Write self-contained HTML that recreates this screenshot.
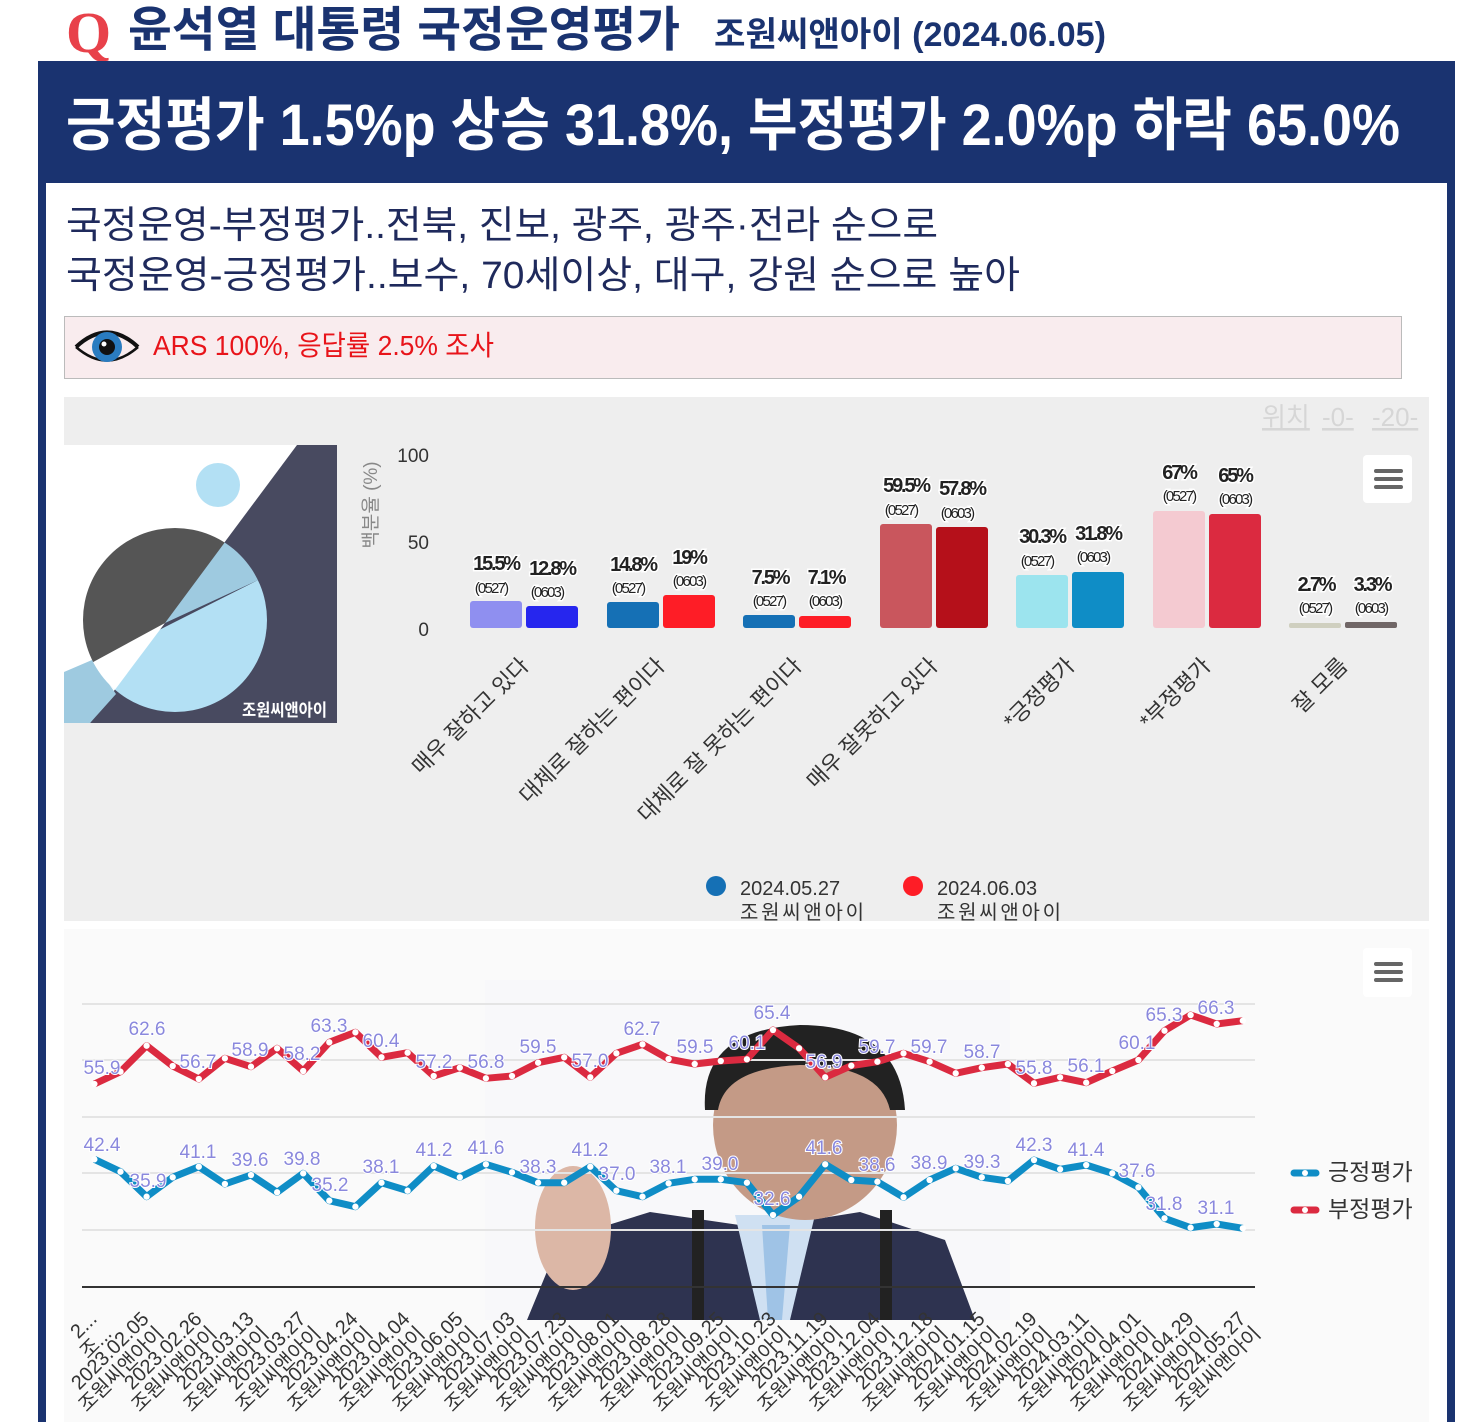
<!DOCTYPE html>
<html><head><meta charset="utf-8"><style>
html,body{margin:0;padding:0;background:#fff;width:1483px;height:1422px;overflow:hidden}
svg{display:block}
text{font-family:"Liberation Sans","Noto Sans CJK KR",sans-serif}
.bv{font-size:20px;font-weight:bold;fill:#222;letter-spacing:-2.2px;stroke:#fff;stroke-width:3px;paint-order:stroke;text-anchor:middle}
.bd{font-size:15px;fill:#222;letter-spacing:-1.8px;stroke:#fff;stroke-width:3px;paint-order:stroke;text-anchor:middle}
.cat{font-size:22px;fill:#333;text-anchor:end}
.ll{font-size:19px;fill:#8a88dd;stroke:#fff;stroke-width:2px;paint-order:stroke;text-anchor:middle}
.xl{font-size:20px;fill:#333;text-anchor:end}
</style></head><body>
<svg width="1483" height="1422" viewBox="0 0 1483 1422" xmlns="http://www.w3.org/2000/svg">
<defs>
<marker id="mk" viewBox="0 0 10 10" refX="5" refY="5" markerWidth="7" markerHeight="7" markerUnits="userSpaceOnUse"><circle cx="5" cy="5" r="4.5" fill="#fff"/></marker>
<clipPath id="cc"><circle cx="175" cy="620" r="92"/></clipPath>
</defs>
<text x="66" y="52" font-size="58" font-weight="bold" fill="#e8414a" style="font-family:'Liberation Serif',serif">Q</text>
<text x="128" y="46" font-size="48" font-weight="bold" fill="#1a3370" textLength="552" lengthAdjust="spacingAndGlyphs">윤석열 대통령 국정운영평가</text>
<text x="714" y="46" font-size="34" font-weight="bold" fill="#1a3370" textLength="392" lengthAdjust="spacingAndGlyphs">조원씨앤아이 (2024.06.05)</text>
<rect x="38" y="61" width="1417" height="1361" fill="#1a3370"/>
<rect x="46" y="183" width="1401" height="1239" fill="#fff"/>
<text x="66" y="145" font-size="58" font-weight="bold" fill="#fff" textLength="1334" lengthAdjust="spacingAndGlyphs">긍정평가 1.5%p 상승 31.8%, 부정평가 2.0%p 하락 65.0%</text>
<text x="66" y="238" font-size="38" fill="#1f2a5c" textLength="872" lengthAdjust="spacingAndGlyphs">국정운영-부정평가..전북, 진보, 광주, 광주·전라 순으로</text>
<text x="66" y="288" font-size="38" fill="#1f2a5c" textLength="954" lengthAdjust="spacingAndGlyphs">국정운영-긍정평가..보수, 70세이상, 대구, 강원 순으로 높아</text>
<rect x="64.5" y="316.5" width="1337" height="62" fill="#f9ecee" stroke="#bbb"/>
<path d="M76 347 Q107 318 138 347" fill="none" stroke="#111" stroke-width="4"/>
<path d="M76 347 Q107 374 138 347" fill="none" stroke="#111" stroke-width="2.5"/>
<circle cx="107" cy="347" r="15" fill="#2a7cc0"/>
<circle cx="107" cy="347" r="8" fill="#111"/>
<circle cx="104" cy="344" r="2.5" fill="#fff"/>
<text x="153" y="355" font-size="28" fill="#e8141a" textLength="341" lengthAdjust="spacingAndGlyphs">ARS 100%, 응답률 2.5% 조사</text>
<rect x="64" y="397" width="1365" height="524" fill="#eeeeee"/>
<text x="1262" y="426" font-size="26" fill="#d6d6d6" text-decoration="underline">위치</text>
<text x="1322" y="426" font-size="26" fill="#d6d6d6" text-decoration="underline">-0-</text>
<text x="1372" y="426" font-size="26" fill="#d6d6d6" text-decoration="underline">-20-</text>
<rect x="1363" y="455" width="49" height="48" rx="4" fill="#fff"/>
<rect x="1374" y="469" width="29" height="4" rx="2" fill="#666"/>
<rect x="1374" y="477" width="29" height="4" rx="2" fill="#666"/>
<rect x="1374" y="485" width="29" height="4" rx="2" fill="#666"/>
<rect x="64" y="445" width="273" height="278" fill="#fff"/>
<polygon points="297,445 337,445 337,723 90,723" fill="#484a60"/>
<polygon points="64,672 92,660 116,694 90,723 64,723" fill="#9ecae0"/>
<circle cx="218" cy="485" r="22" fill="#b3e0f4"/>
<g clip-path="url(#cc)">
<polygon points="60,680 270,574 270,720 60,720" fill="#b3e0f4"/>
<polygon points="60,680 165,623 90,723 60,723" fill="#fff"/>
<polygon points="60,520 297,445 165,623 60,680" fill="#555"/>
<polygon points="297,445 280,445 280,570 165,623" fill="#9ecae0"/>
</g>
<text x="242" y="716" font-size="17" font-weight="bold" fill="#fff" textLength="85" lengthAdjust="spacingAndGlyphs">조원씨앤아이</text>
<text x="429" y="462" font-size="19" fill="#333" text-anchor="end">100</text>
<text x="429" y="549" font-size="19" fill="#333" text-anchor="end">50</text>
<text x="429" y="636" font-size="19" fill="#333" text-anchor="end">0</text>
<text transform="translate(377,505) rotate(-90)" font-size="19" fill="#888" text-anchor="middle">백분율 (%)</text>
<g>
<rect x="470" y="601" width="52" height="27" rx="3" fill="#8f8ff0"/>
<rect x="526" y="606" width="52" height="22" rx="3" fill="#2626ee"/>
<rect x="607" y="602" width="52" height="26" rx="3" fill="#1570b5"/>
<rect x="663" y="595" width="52" height="33" rx="3" fill="#fe1d26"/>
<rect x="743" y="615" width="52" height="13" rx="3" fill="#1570b5"/>
<rect x="799" y="616" width="52" height="12" rx="3" fill="#fe1d26"/>
<rect x="880" y="524" width="52" height="104" rx="3" fill="#c9565d"/>
<rect x="936" y="527" width="52" height="101" rx="3" fill="#b5101a"/>
<rect x="1016" y="575" width="52" height="53" rx="3" fill="#9ce4ee"/>
<rect x="1072" y="572" width="52" height="56" rx="3" fill="#0f8dc6"/>
<rect x="1153" y="511" width="52" height="117" rx="3" fill="#f4cad1"/>
<rect x="1209" y="514" width="52" height="114" rx="3" fill="#db2a40"/>
<rect x="1289" y="623" width="52" height="5" rx="2" fill="#cfcfbf"/>
<rect x="1345" y="622" width="52" height="6" rx="2" fill="#706666"/>
</g>
<g>
<text class="bv" x="496" y="570">15.5%</text><text class="bd" x="491" y="593">(0527)</text>
<text class="bv" x="552" y="575">12.8%</text><text class="bd" x="547" y="597">(0603)</text>
<text class="bv" x="633" y="571">14.8%</text><text class="bd" x="628" y="593">(0527)</text>
<text class="bv" x="689" y="564">19%</text><text class="bd" x="689" y="586">(0603)</text>
<text class="bv" x="770" y="584">7.5%</text><text class="bd" x="769" y="606">(0527)</text>
<text class="bv" x="826" y="584">7.1%</text><text class="bd" x="825" y="606">(0603)</text>
<text class="bv" x="906" y="492">59.5%</text><text class="bd" x="901" y="515">(0527)</text>
<text class="bv" x="962" y="495">57.8%</text><text class="bd" x="957" y="518">(0603)</text>
<text class="bv" x="1042" y="543">30.3%</text><text class="bd" x="1037" y="566">(0527)</text>
<text class="bv" x="1098" y="540">31.8%</text><text class="bd" x="1093" y="562">(0603)</text>
<text class="bv" x="1179" y="479">67%</text><text class="bd" x="1179" y="501">(0527)</text>
<text class="bv" x="1235" y="482">65%</text><text class="bd" x="1235" y="504">(0603)</text>
<text class="bv" x="1316" y="591">2.7%</text><text class="bd" x="1315" y="613">(0527)</text>
<text class="bv" x="1372" y="591">3.3%</text><text class="bd" x="1371" y="613">(0603)</text>
</g>
<g>
<text class="cat" transform="translate(530,667) rotate(-45)">매우 잘하고 있다</text>
<text class="cat" transform="translate(666,667) rotate(-45)">대체로 잘하는 편이다</text>
<text class="cat" transform="translate(803,667) rotate(-45)">대체로 잘 못하는 편이다</text>
<text class="cat" transform="translate(939,667) rotate(-45)">매우 잘못하고 있다</text>
<text class="cat" transform="translate(1076,667) rotate(-45)">*긍정평가</text>
<text class="cat" transform="translate(1212,667) rotate(-45)">*부정평가</text>
<text class="cat" transform="translate(1349,667) rotate(-45)">잘 모름</text>
</g>
<circle cx="716" cy="886" r="10" fill="#1570b5"/>
<text x="740" y="895" font-size="20" fill="#333">2024.05.27</text>
<text x="740" y="919" font-size="20" fill="#333" textLength="124">조원씨앤아이</text>
<circle cx="913" cy="886" r="10" fill="#fe1d26"/>
<text x="937" y="895" font-size="20" fill="#333">2024.06.03</text>
<text x="937" y="919" font-size="20" fill="#333" textLength="124">조원씨앤아이</text>
<rect x="64" y="929" width="1365" height="493" fill="#fafafa"/>
<!-- photo -->
<rect x="485" y="980" width="525" height="340" fill="#f8f8fa"/>
<polygon points="527,1320 560,1240 650,1212 760,1228 860,1212 945,1240 975,1320" fill="#2e3350"/>
<polygon points="735,1215 815,1215 790,1320 760,1320" fill="#cfe0f2"/>
<polygon points="762,1225 790,1225 782,1320 768,1320" fill="#9fc3e6"/>
<ellipse cx="805" cy="1125" rx="92" ry="95" fill="#c49a86"/>
<path d="M705 1110 Q700 1030 800 1025 Q900 1025 905 1110 L890 1110 Q880 1065 800 1065 Q725 1068 718 1110 Z" fill="#222"/>
<ellipse cx="573" cy="1228" rx="38" ry="62" fill="#dcb7a6"/>
<rect x="692" y="1210" width="12" height="110" fill="#222"/>
<rect x="880" y="1210" width="12" height="110" fill="#222"/>
<g stroke="#e4e4e4" stroke-width="2">
<line x1="82" y1="1004" x2="1255" y2="1004"/>
<line x1="82" y1="1060" x2="1255" y2="1060"/>
<line x1="82" y1="1117" x2="1255" y2="1117"/>
<line x1="82" y1="1173" x2="1255" y2="1173"/>
<line x1="82" y1="1230" x2="1255" y2="1230"/>
</g>
<line x1="82" y1="1287" x2="1255" y2="1287" stroke="#333" stroke-width="2"/>
<rect x="1363" y="948" width="49" height="49" rx="4" fill="#fff"/>
<rect x="1374" y="962" width="29" height="4" rx="2" fill="#666"/>
<rect x="1374" y="970" width="29" height="4" rx="2" fill="#666"/>
<rect x="1374" y="978" width="29" height="4" rx="2" fill="#666"/>
<polyline fill="none" stroke="#db2a40" stroke-width="7" stroke-linejoin="round" marker-start="url(#mk)" marker-mid="url(#mk)" marker-end="url(#mk)" points="94.4,1084 120.5,1071.7 146.6,1045.7 172.7,1066 198.8,1079 224.9,1058.3 251,1066.7 277.1,1048.3 303.2,1071 329.3,1042.3 355.4,1032.3 381.5,1057.3 407.6,1052.7 433.7,1076 459.8,1067.7 485.9,1078.3 512,1076 538.1,1062.7 564.2,1057.3 590.3,1077.3 616.4,1053.3 642.5,1044.3 668.6,1059 694.7,1064 720.8,1061 746.9,1059.3 773,1030 799.1,1048.3 825.2,1077.3 851.3,1065.7 877.4,1061.7 903.5,1053.3 929.6,1061.7 955.7,1073.3 981.8,1067.7 1007.9,1064 1034,1083.3 1060.1,1077.3 1086.2,1082.7 1112.3,1071 1138.4,1060 1164.5,1030.7 1190.6,1015 1216.7,1024 1242.8,1020.7"/>
<polyline fill="none" stroke="#0f8dc6" stroke-width="7" stroke-linejoin="round" marker-start="url(#mk)" marker-mid="url(#mk)" marker-end="url(#mk)" points="94.4,1159.3 120.5,1171.7 146.6,1196.7 172.7,1177.3 198.8,1166.7 224.9,1184 251,1175 277.1,1192.3 303.2,1173.3 329.3,1200.7 355.4,1206.7 381.5,1182.7 407.6,1190.7 433.7,1166 459.8,1177.3 485.9,1164.3 512,1172.3 538.1,1182.7 564.2,1182.7 590.3,1166.7 616.4,1190.7 642.5,1196.7 668.6,1183.3 694.7,1179.3 720.8,1179.3 746.9,1182.7 773,1215 799.1,1196.7 825.2,1164.3 851.3,1180 877.4,1181.7 903.5,1197.3 929.6,1180 955.7,1168.3 981.8,1177.3 1007.9,1181 1034,1160 1060.1,1169.3 1086.2,1165 1112.3,1173.3 1138.4,1187.3 1164.5,1218.3 1190.6,1227.7 1216.7,1224 1242.8,1228.3"/>
<g>
<text class="ll" x="102" y="1074">55.9</text><text class="ll" x="147" y="1035">62.6</text><text class="ll" x="198" y="1068">56.7</text><text class="ll" x="250" y="1056">58.9</text><text class="ll" x="302" y="1060">58.2</text><text class="ll" x="329" y="1032">63.3</text><text class="ll" x="381" y="1047">60.4</text><text class="ll" x="434" y="1068">57.2</text><text class="ll" x="486" y="1068">56.8</text><text class="ll" x="538" y="1053">59.5</text><text class="ll" x="590" y="1067">57.0</text><text class="ll" x="642" y="1035">62.7</text><text class="ll" x="695" y="1053">59.5</text><text class="ll" x="747" y="1049">60.1</text><text class="ll" x="772" y="1019">65.4</text><text class="ll" x="824" y="1068">56.9</text><text class="ll" x="877" y="1053">59.7</text><text class="ll" x="929" y="1053">59.7</text><text class="ll" x="982" y="1058">58.7</text><text class="ll" x="1034" y="1074">55.8</text><text class="ll" x="1086" y="1072">56.1</text><text class="ll" x="1137" y="1049">60.1</text><text class="ll" x="1164" y="1021">65.3</text><text class="ll" x="1216" y="1014">66.3</text>
<text class="ll" x="102" y="1151">42.4</text><text class="ll" x="148" y="1187">35.9</text><text class="ll" x="198" y="1158">41.1</text><text class="ll" x="250" y="1166">39.6</text><text class="ll" x="302" y="1165">39.8</text><text class="ll" x="330" y="1191">35.2</text><text class="ll" x="381" y="1173">38.1</text><text class="ll" x="434" y="1156">41.2</text><text class="ll" x="486" y="1154">41.6</text><text class="ll" x="538" y="1173">38.3</text><text class="ll" x="590" y="1156">41.2</text><text class="ll" x="617" y="1180">37.0</text><text class="ll" x="668" y="1173">38.1</text><text class="ll" x="720" y="1170">39.0</text><text class="ll" x="772" y="1205">32.6</text><text class="ll" x="824" y="1154">41.6</text><text class="ll" x="877" y="1171">38.6</text><text class="ll" x="929" y="1169">38.9</text><text class="ll" x="982" y="1168">39.3</text><text class="ll" x="1034" y="1151">42.3</text><text class="ll" x="1086" y="1156">41.4</text><text class="ll" x="1137" y="1177">37.6</text><text class="ll" x="1164" y="1210">31.8</text><text class="ll" x="1216" y="1214">31.1</text>
</g>
<g>
<g transform="translate(98,1320) rotate(-45)"><text class="xl">2...</text><text class="xl" y="21">조...</text></g>
<g transform="translate(150,1320) rotate(-45)"><text class="xl">2023.02.05</text><text class="xl" y="21">조원씨앤아이</text></g>
<g transform="translate(203,1320) rotate(-45)"><text class="xl">2023.02.26</text><text class="xl" y="21">조원씨앤아이</text></g>
<g transform="translate(255,1320) rotate(-45)"><text class="xl">2023.03.13</text><text class="xl" y="21">조원씨앤아이</text></g>
<g transform="translate(307,1320) rotate(-45)"><text class="xl">2023.03.27</text><text class="xl" y="21">조원씨앤아이</text></g>
<g transform="translate(359,1320) rotate(-45)"><text class="xl">2023.04.24</text><text class="xl" y="21">조원씨앤아이</text></g>
<g transform="translate(411,1320) rotate(-45)"><text class="xl">2023.04.04</text><text class="xl" y="21">조원씨앤아이</text></g>
<g transform="translate(464,1320) rotate(-45)"><text class="xl">2023.06.05</text><text class="xl" y="21">조원씨앤아이</text></g>
<g transform="translate(516,1320) rotate(-45)"><text class="xl">2023.07.03</text><text class="xl" y="21">조원씨앤아이</text></g>
<g transform="translate(568,1320) rotate(-45)"><text class="xl">2023.07.23</text><text class="xl" y="21">조원씨앤아이</text></g>
<g transform="translate(620,1320) rotate(-45)"><text class="xl">2023.08.01</text><text class="xl" y="21">조원씨앤아이</text></g>
<g transform="translate(672,1320) rotate(-45)"><text class="xl">2023.08.28</text><text class="xl" y="21">조원씨앤아이</text></g>
<g transform="translate(725,1320) rotate(-45)"><text class="xl">2023.09.25</text><text class="xl" y="21">조원씨앤아이</text></g>
<g transform="translate(777,1320) rotate(-45)"><text class="xl">2023.10.23</text><text class="xl" y="21">조원씨앤아이</text></g>
<g transform="translate(829,1320) rotate(-45)"><text class="xl">2023.11.19</text><text class="xl" y="21">조원씨앤아이</text></g>
<g transform="translate(881,1320) rotate(-45)"><text class="xl">2023.12.04</text><text class="xl" y="21">조원씨앤아이</text></g>
<g transform="translate(934,1320) rotate(-45)"><text class="xl">2023.12.18</text><text class="xl" y="21">조원씨앤아이</text></g>
<g transform="translate(986,1320) rotate(-45)"><text class="xl">2024.01.15</text><text class="xl" y="21">조원씨앤아이</text></g>
<g transform="translate(1038,1320) rotate(-45)"><text class="xl">2024.02.19</text><text class="xl" y="21">조원씨앤아이</text></g>
<g transform="translate(1090,1320) rotate(-45)"><text class="xl">2024.03.11</text><text class="xl" y="21">조원씨앤아이</text></g>
<g transform="translate(1142,1320) rotate(-45)"><text class="xl">2024.04.01</text><text class="xl" y="21">조원씨앤아이</text></g>
<g transform="translate(1195,1320) rotate(-45)"><text class="xl">2024.04.29</text><text class="xl" y="21">조원씨앤아이</text></g>
<g transform="translate(1247,1320) rotate(-45)"><text class="xl">2024.05.27</text><text class="xl" y="21">조원씨앤아이</text></g>
</g>
<line x1="1294" y1="1173" x2="1316" y2="1173" stroke="#0f8dc6" stroke-width="7" stroke-linecap="round"/>
<circle cx="1305" cy="1173" r="3" fill="#fff"/>
<text x="1328" y="1180" font-size="23" fill="#333">긍정평가</text>
<line x1="1294" y1="1210" x2="1316" y2="1210" stroke="#db2a40" stroke-width="7" stroke-linecap="round"/>
<circle cx="1305" cy="1210" r="3" fill="#fff"/>
<text x="1328" y="1217" font-size="23" fill="#333">부정평가</text>
</svg>
</body></html>
